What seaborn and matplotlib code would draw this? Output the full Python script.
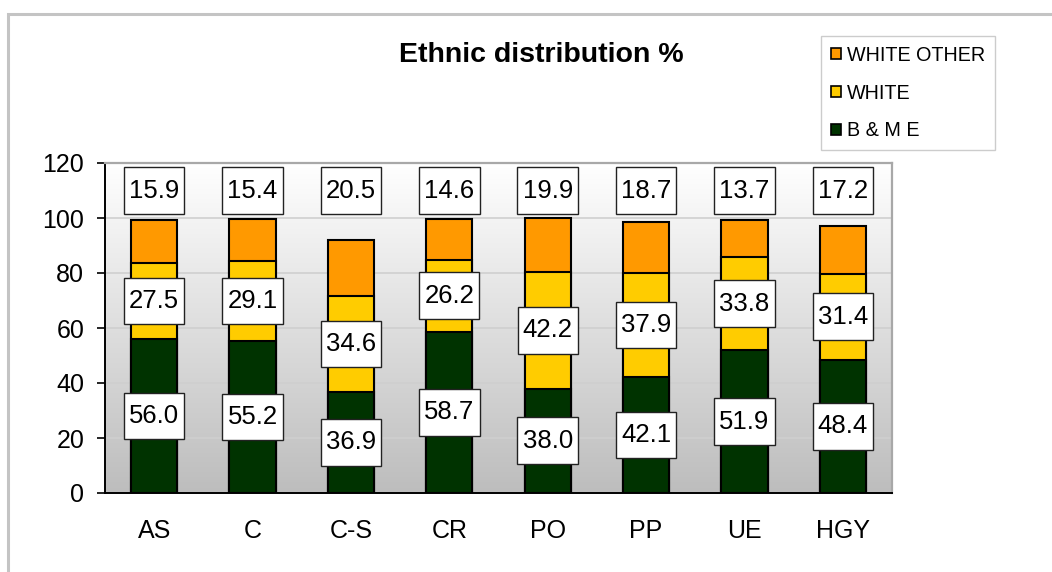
import numpy as np
import pandas as pd
import matplotlib
matplotlib.use("Agg")
import matplotlib.pyplot as plt
import seaborn as sns
from matplotlib.colors import LinearSegmentedColormap
from matplotlib.patches import Rectangle, Patch
from matplotlib.path import Path

# Areas and their ethnic breakdown (%)
areas = ["AS", "C", "C-S", "CR", "PO", "PP", "UE", "HGY"]
bme = [56.0, 55.2, 36.9, 58.7, 38.0, 42.1, 51.9, 48.4]
white = [27.5, 29.1, 34.6, 26.2, 42.2, 37.9, 33.8, 31.4]
white_other = [15.9, 15.4, 20.5, 14.6, 19.9, 18.7, 13.7, 17.2]
y_ticks = [0, 20, 40, 60, 80, 100, 120]

C_BME = "#003300"
C_WHITE = "#FFCC00"
C_OTHER = "#FF9900"

sns.set_theme(style="white")
plt.rcParams["font.family"] = ["Liberation Sans", "DejaVu Sans"]
plt.rcParams.update({"text.color": "black", "xtick.color": "black",
                     "ytick.color": "black", "axes.labelcolor": "black"})

df = pd.DataFrame({"area": areas, "bme": bme, "white": white, "other": white_other})
df["cum_white"] = df["bme"] + df["white"]
df["cum_other"] = df["cum_white"] + df["other"]


def label_box(x0, y0, width, height, mutation_size):
    """Rectangle with a narrow side padding and a taller vertical padding."""
    px, py = 0.2 * mutation_size, 0.44 * mutation_size
    x0, y0 = x0 - px, y0 - py
    x1, y1 = x0 + width + 2 * px, y0 + height + 2 * py
    return Path([(x0, y0), (x1, y0), (x1, y1), (x0, y1), (x0, y0)], closed=True)


fig = plt.figure(figsize=(10.52, 5.72), dpi=100)
ax = fig.add_axes([105 / 1052, 79 / 572, 787 / 1052, 330 / 572])

# outer chart frame
fig.patches.append(Rectangle((8 / 1052, -0.1), 1.2, (572 - 14) / 572 + 0.1,
                             transform=fig.transFigure, fill=False,
                             edgecolor="#c4c4c4", lw=2.2, zorder=0))

# plot-area gradient
cmap = LinearSegmentedColormap.from_list("bg", ["#bdbdbd", "#ffffff"])
ax.imshow(np.linspace(0, 1, 256).reshape(-1, 1), extent=[-0.5, 7.5, 0, 120],
          origin="lower", aspect="auto", cmap=cmap, zorder=0)

# horizontal gridlines
for v in y_ticks[1:-1]:
    ax.axhline(v, color="#cfcfcf", lw=1.2, zorder=0.5)

# stacked bars drawn as cumulative layers
bar_kw = dict(width=0.47, edgecolor="black", linewidth=1.5, zorder=2, ax=ax)
sns.barplot(data=df, x="area", y="cum_other", color=C_OTHER, saturation=1, **bar_kw)
sns.barplot(data=df, x="area", y="cum_white", color=C_WHITE, saturation=1, **bar_kw)
sns.barplot(data=df, x="area", y="bme", color=C_BME, saturation=1, **bar_kw)

# value boxes
box = dict(boxstyle=label_box, facecolor="white", edgecolor="#222222", lw=1.0)
lab_fs = 18.5
for i, r in df.iterrows():
    ax.text(i, r["bme"] / 2, f"{r['bme']:.1f}", ha="center", va="center",
            fontsize=lab_fs, bbox=box, zorder=4)
    ax.text(i, r["bme"] + r["white"] / 2, f"{r['white']:.1f}", ha="center",
            va="center", fontsize=lab_fs, bbox=box, zorder=4)
    ax.text(i, 110, f"{r['other']:.1f}", ha="center", va="center",
            fontsize=lab_fs, bbox=box, zorder=4)

ax.set_xlim(-0.5, 7.5)
ax.set_ylim(0, 120)
ax.set_yticks(y_ticks)
ax.set_xlabel("")
ax.set_ylabel("")
ax.set_xticks(range(len(areas)))
ax.set_xticklabels(areas)
ax.set_xticks(np.arange(-0.5, 8, 1), minor=True)
ax.tick_params(axis="x", which="major", length=0, pad=19, labelsize=18)
ax.tick_params(axis="x", which="minor", length=8, width=1.2, color="black", direction="out")
ax.tick_params(axis="y", length=6, width=1.2, color="black", direction="out",
               pad=9, labelsize=18, left=True)
ax.grid(False)

for s in ["left", "bottom"]:
    ax.spines[s].set_color("black")
    ax.spines[s].set_linewidth(1.4)
for s in ["top", "right"]:
    ax.spines[s].set_color("#a8a8a8")
    ax.spines[s].set_linewidth(1.6)
for s in ax.spines.values():
    s.set_zorder(5)

fig.text(541 / 1052, 1 - 55 / 572, "Ethnic distribution %", ha="center",
         va="center", fontsize=20.5, fontweight="bold")

handles = [Patch(facecolor=C_OTHER, edgecolor="black", lw=1.2),
           Patch(facecolor=C_WHITE, edgecolor="black", lw=1.2),
           Patch(facecolor=C_BME, edgecolor="black", lw=1.2)]
leg = fig.legend(handles, ["WHITE OTHER", "WHITE", "B & M E"],
                 loc="upper left", bbox_to_anchor=(821 / 1052, 1 - 36 / 572),
                 frameon=True, fancybox=False, framealpha=1, edgecolor="#cccccc",
                 handlelength=0.5, handleheight=0.5, handletextpad=0.3,
                 labelspacing=0.95, borderpad=0.5, borderaxespad=0,
                 prop={"family": ["Liberation Sans Narrow", "Liberation Sans"], "size": 14.2})
leg.get_frame().set_linewidth(1.0)

fig.savefig("out.png", dpi=100)
